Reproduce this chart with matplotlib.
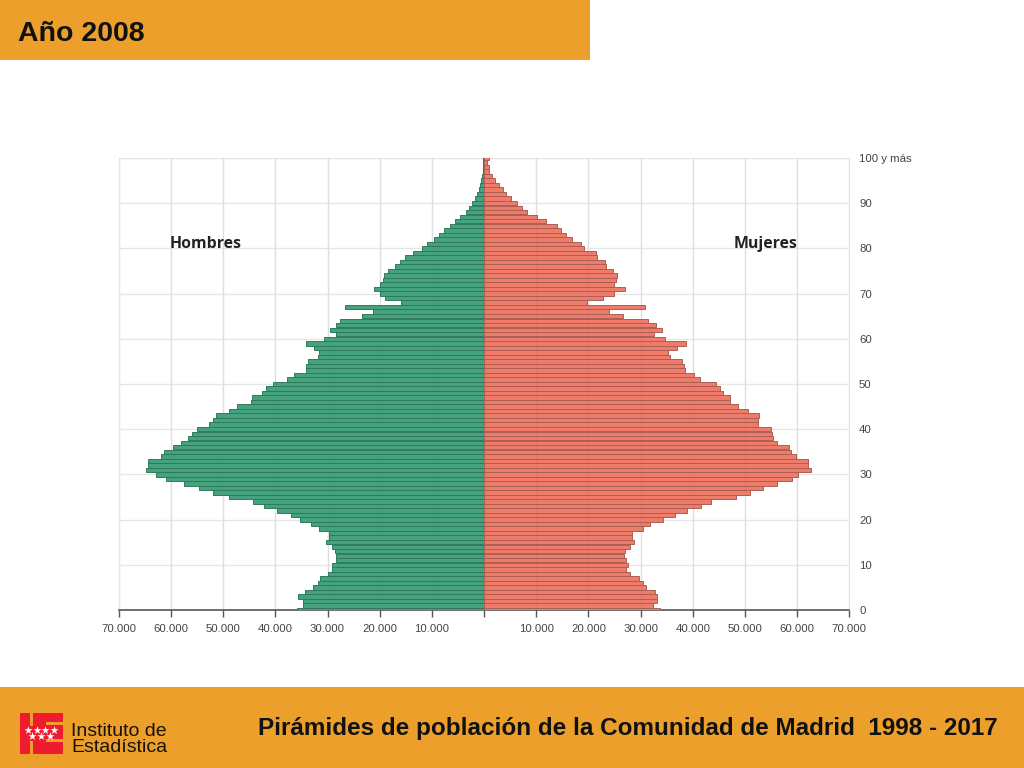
import matplotlib
matplotlib.use("Agg")
import numpy as np
import matplotlib.pyplot as plt
from matplotlib.patches import Rectangle

plt.rcParams['font.family'] = ['Liberation Sans', 'DejaVu Sans']

# poblacion por edad (miles)
edades = np.arange(0, 101)
hombres = [35.9, 34.7, 34.7, 35.6, 34.4, 32.7, 31.9, 31.4, 30.0, 29.1,
           29.1, 28.4, 28.4, 28.6, 29.1, 30.3, 29.8, 29.8, 31.7, 33.1,
           35.3, 37.0, 39.6, 42.2, 44.3, 48.9, 51.9, 54.7, 57.6, 60.9,
           62.9, 64.8, 64.4, 64.4, 62.0, 61.4, 59.6, 58.1, 56.8, 56.0,
           55.1, 52.8, 51.9, 51.4, 48.9, 47.3, 44.7, 44.5, 42.6, 41.7,
           40.5, 37.8, 36.4, 34.1, 34.2, 33.7, 31.8, 31.6, 32.5, 34.1,
           30.7, 28.4, 29.6, 28.4, 27.7, 23.3, 21.2, 26.6, 15.9, 18.9,
           19.9, 21.0, 19.9, 19.3, 19.1, 18.5, 17.0, 16.1, 15.1, 13.7,
           11.8, 11.0, 9.5, 8.7, 7.7, 6.6, 5.6, 4.6, 3.5, 2.9,
           2.3, 1.8, 1.3, 1.0, 0.8, 0.5, 0.4, 0.25, 0.2, 0.12, 0.12]
mujeres = [33.8, 32.3, 33.2, 33.1, 32.8, 31.1, 30.5, 29.7, 28.0, 27.3,
           27.6, 27.2, 26.8, 27.0, 27.9, 28.7, 28.4, 28.4, 30.4, 31.9,
           34.3, 36.6, 38.8, 41.6, 43.5, 48.2, 51.0, 53.4, 56.2, 59.0,
           60.1, 62.7, 62.0, 62.1, 59.8, 58.8, 58.4, 56.2, 55.4, 55.2,
           54.9, 52.5, 52.5, 52.7, 50.6, 48.7, 47.1, 47.1, 45.7, 45.3,
           44.4, 41.4, 40.3, 38.5, 38.4, 37.9, 35.7, 35.3, 36.9, 38.7,
           34.7, 32.6, 34.1, 33.0, 31.5, 26.6, 23.9, 30.8, 19.7, 22.8,
           25.0, 27.0, 25.0, 25.2, 25.5, 24.7, 23.3, 23.1, 21.7, 21.5,
           19.2, 18.5, 16.9, 15.7, 14.8, 14.0, 11.8, 10.2, 8.2, 7.3,
           6.3, 5.2, 4.3, 3.7, 2.9, 2.1, 1.5, 0.9, 0.9, 0.6, 0.9]

ticks_x = [-70, -60, -50, -40, -30, -20, -10, 0, 10, 20, 30, 40, 50, 60, 70]
etiquetas_x = ['70.000', '60.000', '50.000', '40.000', '30.000', '20.000', '10.000', '',
               '10.000', '20.000', '30.000', '40.000', '50.000', '60.000', '70.000']
ticks_y = [0, 10, 20, 30, 40, 50, 60, 70, 80, 90, 100]
etiquetas_y = ['0', '10', '20', '30', '40', '50', '60', '70', '80', '90', '100 y más']

NARANJA = '#eca02b'
W, H = 1024, 768

fig = plt.figure(figsize=(W / 100, H / 100), dpi=100)

# capa de fondo en pixeles: bandas y logo
fondo = fig.add_axes([0, 0, 1, 1])
fondo.set_xlim(0, W)
fondo.set_ylim(H, 0)
fondo.axis('off')
fondo.add_patch(Rectangle((0, 0), 590, 60, color=NARANJA, lw=0))
fondo.add_patch(Rectangle((0, 687), W, 81, color=NARANJA, lw=0))
fondo.text(18, 34, 'Año 2008', fontsize=20.5, fontweight='bold', va='center', color='#111111')
fondo.text(998, 728, 'Pirámides de población de la Comunidad de Madrid  1998 - 2017', fontsize=17.45,
           fontweight='bold', va='center', ha='right', color='#111111')

# logo IE
ROJO = '#ee1c2e'
fondo.add_patch(Rectangle((19.5, 712.5), 43.5, 41, color=ROJO, lw=0))
for x0, y0, w, h in [(30, 712.5, 3, 13), (30, 741, 3, 12.5), (46, 722, 17, 3), (46, 739, 17, 3)]:
    fondo.add_patch(Rectangle((x0, y0), w, h, color=NARANJA, lw=0))
fondo.scatter([28, 37, 45, 54], [730, 730, 730, 730], marker='*', s=38, color='white', lw=0)
fondo.scatter([32, 41, 50], [736, 736, 736], marker='*', s=38, color='white', lw=0)
fondo.text(71, 732, 'Instituto de', fontsize=14, va='center', color='#1a1208')
fondo.text(71, 748, 'Estadística', fontsize=14, va='center', color='#1a1208')

# piramide
ax = fig.add_axes([118.8 / W, 1 - 610 / H, 730.5 / W, 452 / H])
ax.patch.set_alpha(0)
ax.barh(edades, -np.array(hombres), height=0.98, color='#44a37d', edgecolor='#2f7a5d', linewidth=0.7, zorder=3)
ax.barh(edades, mujeres, height=0.98, color='#ef7b6b', edgecolor='#ad5f54', linewidth=0.7, zorder=3)
ax.set_xlim(-70, 70)
ax.set_ylim(0, 100)

ax.set_xticks(ticks_x, etiquetas_x)
ax.set_yticks(ticks_y, etiquetas_y)
ax.yaxis.tick_right()
ax.tick_params(axis='x', length=5, width=1, color='#555555', labelcolor='#444444', labelsize=8.2, pad=5)
ax.tick_params(axis='y', length=0, labelcolor='#444444', labelsize=8.2, pad=7)
ax.grid(True, color='#e6e6ea', linewidth=1, zorder=0)
ax.set_axisbelow(True)

# las lineas verticales se transparentan sobre las barras
for t in ticks_x[1:-1]:
    if t != 0:
        ax.axvline(t, color='#555555', alpha=0.05, linewidth=1, zorder=4)

for lado in ['top', 'left', 'right']:
    ax.spines[lado].set_color('#e6e6ea')
ax.spines['bottom'].set_color('#555555')
ax.spines['bottom'].set_linewidth(1.2)

ax.text(-53.3, 80.9, 'Hombres', fontsize=11.4, fontweight='bold', ha='center', va='center',
        family=['Open Sans', 'DejaVu Sans'], color='#222222')
ax.text(54, 80.9, 'Mujeres', fontsize=11.4, fontweight='bold', ha='center', va='center',
        family=['Open Sans', 'DejaVu Sans'], color='#222222')

fig.savefig('out.png', dpi=100)
